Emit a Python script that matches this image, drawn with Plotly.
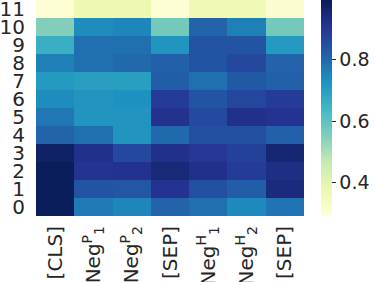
import plotly.graph_objects as go

columns = ["[CLS]", "Neg<sup>P</sup><sub>1</sub>", "Neg<sup>P</sup><sub>2</sub>", "[SEP]",
           "Neg<sup>H</sup><sub>1</sub>", "Neg<sup>H</sup><sub>2</sub>", "[SEP]"]
layers = list(range(12))

# rows: layer 0 .. 11
layer0 = [0.99, 0.77, 0.75, 0.81, 0.79, 0.745, 0.78]
layer1 = [0.99, 0.84, 0.835, 0.91, 0.85, 0.82, 0.94]
layer2 = [0.99, 0.91, 0.915, 0.95, 0.92, 0.89, 0.93]
layer3 = [0.975, 0.92, 0.865, 0.92, 0.90, 0.88, 0.955]
layer4 = [0.81, 0.79, 0.72, 0.80, 0.85, 0.85, 0.815]
layer5 = [0.775, 0.72, 0.72, 0.915, 0.86, 0.92, 0.91]
layer6 = [0.74, 0.72, 0.73, 0.89, 0.84, 0.87, 0.89]
layer7 = [0.71, 0.70, 0.70, 0.82, 0.79, 0.83, 0.815]
layer8 = [0.76, 0.79, 0.80, 0.815, 0.84, 0.865, 0.81]
layer9 = [0.66, 0.79, 0.79, 0.72, 0.84, 0.84, 0.71]
layer10 = [0.55, 0.74, 0.75, 0.57, 0.81, 0.76, 0.57]
layer11 = [0.30, 0.375, 0.375, 0.30, 0.365, 0.365, 0.31]

z = [layer0, layer1, layer2, layer3, layer4, layer5, layer6,
     layer7, layer8, layer9, layer10, layer11]

cb_ticks = [0.4, 0.6, 0.8]

ylgnbu = [[0.0, "#ffffd9"], [0.125, "#edf8b1"], [0.25, "#c7e9b4"], [0.375, "#7fcdbb"],
          [0.5, "#41b6c4"], [0.625, "#1d91c0"], [0.75, "#225ea8"], [0.875, "#253494"],
          [1.0, "#081d58"]]

fig = go.Figure(go.Heatmap(
    z=z, x=list(range(len(columns))), y=layers,
    colorscale=ylgnbu, zmin=0.29, zmax=0.995,
    xgap=0, ygap=0,
    colorbar=dict(
        x=(321 - 36) / 268, xanchor="left", xpad=0, ypad=0,
        y=0, yanchor="bottom", len=1, lenmode="fraction",
        thickness=11, outlinewidth=0,
        tickvals=cb_ticks, ticktext=[str(t) for t in cb_ticks],
        ticks="outside", ticklen=4, tickwidth=1, tickcolor="#262626",
        tickfont=dict(size=19, color="#262626", family="DejaVu Sans"),
    ),
))

fig.update_layout(
    template="none",
    width=374, height=282,
    margin=dict(l=36, r=70, t=0, b=66, autoexpand=False),
    paper_bgcolor="white", plot_bgcolor="white",
    font=dict(family="DejaVu Sans", color="#262626", size=20),
)
fig.update_xaxes(
    tickvals=list(range(len(columns))), ticktext=columns,
    tickangle=-90, showgrid=False, zeroline=False, ticks="", showline=False,
    tickfont=dict(size=20), range=[-0.5, 6.5], automargin=False,
    ticklabeloverflow="allow", ticklabelstandoff=5,
)
fig.update_yaxes(
    tickvals=layers, ticktext=[str(l) for l in layers],
    showgrid=False, zeroline=False, ticks="", showline=False,
    tickfont=dict(size=20), range=[-0.5, 11.5], automargin=False,
    ticklabeloverflow="allow", ticklabelstandoff=10,
)

fig.write_html(
    "out.html",
    config={"displayModeBar": False},
    post_script="document.body.style.margin='0';document.body.style.padding='0';",
)
